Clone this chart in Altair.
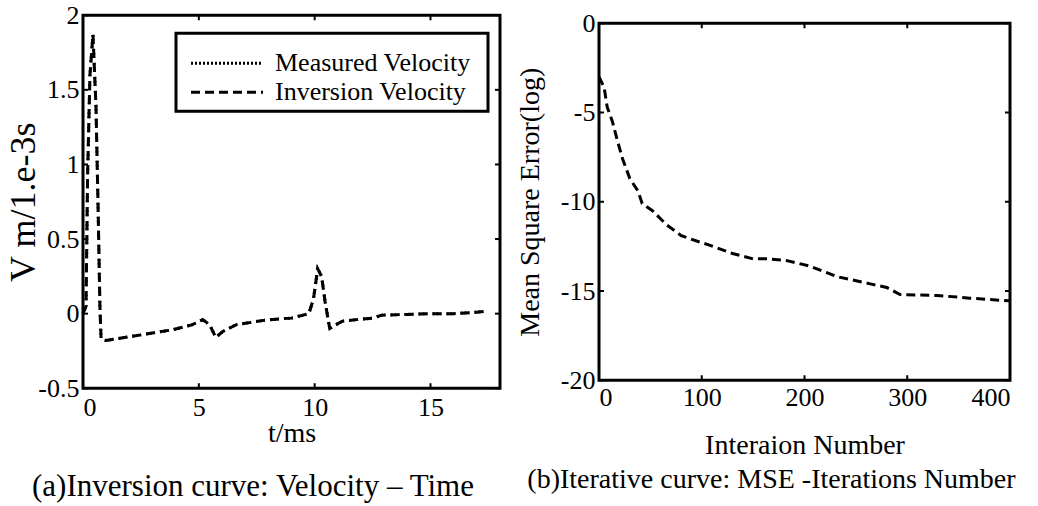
import altair as alt
import pandas as pd

# ---- Panel (a): velocity vs time ----
t_ms = [0, 0.13, 0.2, 0.3, 0.43, 0.56, 0.65, 0.73, 0.78, 1.0, 2.0, 3.0, 3.9, 4.7, 5.17,
        5.47, 5.73, 6.03, 6.6, 7.0, 7.8, 8.5, 9.0, 9.5, 9.75, 9.95, 10.13, 10.3, 10.45,
        10.65, 10.85, 11.2, 11.8, 12.5, 12.9, 14.0, 15.0, 16.0, 16.5, 17.0, 17.3]
inversion_v = [0, 0.05, 0.94, 1.6, 1.87, 1.39, 0.72, 0.05, -0.17, -0.18, -0.155, -0.13, -0.107,
               -0.075, -0.04, -0.075, -0.16, -0.12, -0.075, -0.065, -0.045, -0.035, -0.03,
               -0.01, 0.0, 0.1, 0.3, 0.25, 0.08, -0.1, -0.08, -0.05, -0.04, -0.03, -0.01,
               -0.005, 0.0, 0.0, 0.005, 0.01, 0.015]
measured_v = [0, 0.05, 0.94, 1.6, 1.87, 1.39, 0.72, 0.05, -0.17, -0.18, -0.155, -0.13, -0.107,
              -0.075, -0.04, -0.075, -0.16, -0.12, -0.075, -0.065, -0.045, -0.035, -0.03,
              -0.01, 0.0, 0.1, 0.3, 0.25, 0.08, -0.1, -0.08, -0.05, -0.04, -0.03, -0.01,
              -0.005, 0.0, 0.0, 0.005, 0.01, 0.015]
series_names = ["Measured Velocity", "Inversion Velocity"]
x_ticks_a = [0, 5, 10, 15]
y_ticks_a = [-0.5, 0, 0.5, 1, 1.5, 2]

# ---- Panel (b): MSE vs iterations ----
iters = [0, 5, 8, 13, 18, 23, 30, 38, 42, 52, 66, 80, 95, 106, 130, 150, 165, 183, 205,
         232, 264, 280, 293, 329, 361, 399]
mse_log = [-3.0, -3.6, -4.7, -5.5, -6.6, -7.6, -8.7, -9.4, -10.1, -10.5, -11.3, -11.9, -12.2,
           -12.4, -12.9, -13.2, -13.2, -13.3, -13.6, -14.2, -14.6, -14.8, -15.2, -15.25,
           -15.4, -15.55]
x_ticks_b = [0, 100, 200, 300, 400]
y_ticks_b = [-20, -15, -10, -5, 0]

FONT = "Liberation Serif"
WA, HA = 417, 373
WB, HB = 411, 357
TK = 5

df_meas = pd.DataFrame({"t": t_ms, "v": measured_v, "order": range(len(t_ms))})
df_inv = pd.DataFrame({"t": t_ms, "v": inversion_v, "order": range(len(t_ms))})
df_b = pd.DataFrame({"n": iters, "mse": mse_log})

lab = "datum.value + ''"

xa = alt.Scale(domain=[0, 18], nice=False, zero=False)
ya = alt.Scale(domain=[-0.5, 2], nice=False, zero=False)
xb = alt.Scale(domain=[0, 400], nice=False)
yb = alt.Scale(domain=[-20, 0], nice=False)

x_enc_a = alt.X("t:Q", scale=xa, axis=alt.Axis(values=x_ticks_a, title="t/ms", labelExpr=lab,
                                               labelPadding=6, titleY=53, titleBaseline="alphabetic"))
y_enc_a = alt.Y("v:Q", scale=ya, axis=alt.Axis(values=y_ticks_a, title="V m/1.e-3s", labelExpr=lab,
                                               labelPadding=4, titleX=-60, titleY=HA / 2,
                                               titleFontSize=36,
                                               titleBaseline="middle", titleAngle=-90))

# measured (dotted) drawn first, inversion (dashed) on top
meas_line = alt.Chart(df_meas).mark_line(color="black", strokeWidth=3,
                                         strokeDash=[2, 2, 2, 2, 1, 5]).encode(
    x=x_enc_a, y=y_enc_a, order="order:Q")
inv_line = alt.Chart(df_inv).mark_line(color="black", strokeWidth=3, strokeDash=[9, 5]).encode(
    x=x_enc_a, y=y_enc_a, order="order:Q")

# legend box (drawn by hand inside the plot)
one = pd.DataFrame({"k": [0]})
leg_box = alt.Chart(one).mark_rect(fill="white", stroke="black", strokeWidth=3).encode(
    x=alt.value(93), x2=alt.value(405), y=alt.value(18), y2=alt.value(96))
leg_dot = alt.Chart(one).mark_rule(color="black", strokeWidth=3, strokeDash=[2, 2]).encode(
    x=alt.value(108), x2=alt.value(180), y=alt.value(48))
leg_dash = alt.Chart(one).mark_rule(color="black", strokeWidth=3, strokeDash=[9, 5]).encode(
    x=alt.value(108), x2=alt.value(180), y=alt.value(77))
leg_t1 = alt.Chart(pd.DataFrame({"s": [series_names[0]]})).mark_text(
    font=FONT, fontSize=26, align="left", baseline="middle", color="black").encode(
    text="s:N", x=alt.value(192), y=alt.value(48))
leg_t2 = alt.Chart(pd.DataFrame({"s": [series_names[1]]})).mark_text(
    font=FONT, fontSize=26, align="left", baseline="middle", color="black").encode(
    text="s:N", x=alt.value(192), y=alt.value(77))


def tick_layers(xs, ys, xsc, ysc, W, H, xf, yf):
    dx = pd.DataFrame({xf: xs})
    dy = pd.DataFrame({yf: ys})
    bottom = alt.Chart(dx).mark_rule(color="black", strokeWidth=2).encode(
        x=alt.X(f"{xf}:Q", scale=xsc), y=alt.value(H), y2=alt.value(H - TK))
    top = alt.Chart(dx).mark_rule(color="black", strokeWidth=2).encode(
        x=alt.X(f"{xf}:Q", scale=xsc), y=alt.value(0), y2=alt.value(TK))
    left = alt.Chart(dy).mark_rule(color="black", strokeWidth=2).encode(
        y=alt.Y(f"{yf}:Q", scale=ysc), x=alt.value(0), x2=alt.value(TK))
    right = alt.Chart(dy).mark_rule(color="black", strokeWidth=2).encode(
        y=alt.Y(f"{yf}:Q", scale=ysc), x=alt.value(W), x2=alt.value(W - TK))
    return [bottom, top, left, right]


panel_a = alt.layer(
    *tick_layers(x_ticks_a, y_ticks_a, xa, ya, WA, HA, "t", "v"),
    meas_line, inv_line, leg_box, leg_dot, leg_dash, leg_t1, leg_t2,
).properties(
    width=WA, height=HA,
    title=alt.TitleParams("(a)Inversion curve: Velocity \u2013 Time", orient="bottom", font=FONT,
                          fontSize=31, fontWeight="normal", color="black", anchor="middle",
                          frame="bounds", offset=25),
)

line_b = alt.Chart(df_b).mark_line(color="black", strokeWidth=3, strokeDash=[9, 5]).encode(
    x=alt.X("n:Q", scale=xb, axis=alt.Axis(values=x_ticks_b, title="Interaion Number", labelExpr=lab,
                                           labelPadding=4, titleY=73, titleBaseline="alphabetic")),
    y=alt.Y("mse:Q", scale=yb, axis=alt.Axis(values=y_ticks_b, title="Mean Square Error(log)",
                                             labelExpr=lab, labelPadding=4, titleX=-69,
                                             titleY=HB / 2, titleBaseline="middle", titleAngle=-90)),
)
# invisible extender above the right plot so that it sits a little lower than the left one
spacer_b = alt.Chart(one).mark_rule(opacity=0).encode(
    x=alt.value(1), y=alt.value(-21), y2=alt.value(0))

panel_b = alt.layer(
    *tick_layers(x_ticks_b, y_ticks_b, xb, yb, WB, HB, "n", "mse"), line_b, spacer_b,
).properties(
    width=WB, height=HB,
    title=alt.TitleParams("(b)Iterative curve: MSE -Iterations Number", orient="bottom", font=FONT,
                          fontSize=28, fontWeight="normal", color="black", anchor="middle",
                          frame="bounds", offset=7, dx=6),
)

chart = alt.hconcat(panel_a, panel_b, spacing=11, center=True).properties(
    padding={"left": 3, "top": 0, "right": 5, "bottom": 5},
    background="white",
).configure_view(
    stroke="black", strokeWidth=3
).configure_axis(
    domain=False, ticks=False, grid=False,
    labelFont=FONT, labelFontSize=26, labelColor="black",
    titleFont=FONT, titleFontSize=28, titleFontWeight="normal", titleColor="black",
)

chart.save("out.html", embed_options={"renderer": "svg", "actions": False})
